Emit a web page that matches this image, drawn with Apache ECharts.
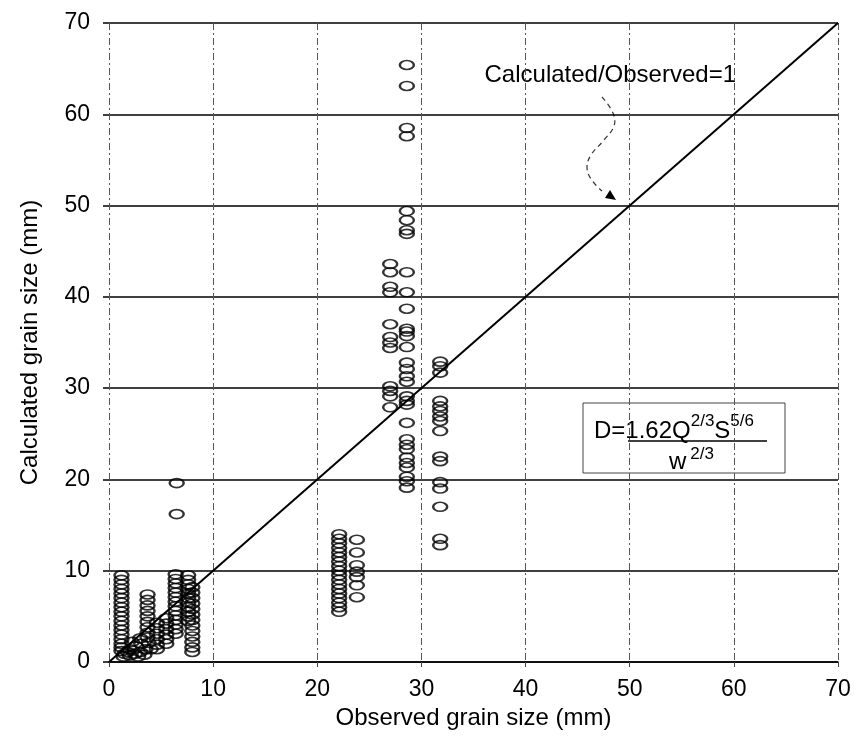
<!DOCTYPE html>
<html>
<head>
<meta charset="utf-8">
<script src="https://cdn.jsdelivr.net/npm/echarts@6/dist/echarts.min.js"></script>
<style>
html,body{margin:0;padding:0;background:#fff;}
#main{width:854px;height:747px;}
</style>
</head>
<body>
<div id="main"></div>
<script>
var ticks = [0, 10, 20, 30, 40, 50, 60, 70];
// small rivers, observed 0-9 mm
var obsSmall = [
    1.2,1.2,1.2,1.2,1.2,1.2,1.2,1.2,1.2,1.2,1.2,1.2,1.2,1.2,1.2,1.2,1.2,1.2,
    1.5,2.0,2.5,3.0,3.5,2.0,2.6,3.1,1.8,2.8,3.4,4.0,3.8,1.4,2.2,3.0,
    3.7,3.7,3.7,3.7,3.7,3.7,3.7,3.7,3.7,
    4.6,4.6,4.6,4.6,4.6,4.6,
    5.5,5.5,5.5,5.5,5.5,5.5,
    6.4,6.4,6.4,6.4,6.4,6.4,6.4,6.4,6.4,6.4,6.4,6.4,6.4,6.4,
    7.6,7.6,7.6,7.6,7.6,7.6,7.6,7.6,7.6,7.6,7.6,
    8.0,8.0,8.0,8.0,8.0,8.0,8.0,8.0,8.0,8.0,8.0,8.0,8.0,
    6.5,6.5
];
var calcSmall = [
    9.5,9.0,8.5,8.0,7.5,7.0,6.5,6.0,5.5,5.0,4.5,4.0,3.5,3.0,2.5,2.0,1.6,1.2,
    0.9,0.7,0.9,1.1,1.4,1.4,1.7,2.0,1.1,0.6,0.8,1.4,2.1,0.6,2.2,2.6,
    7.4,6.8,6.2,5.6,5.0,4.4,3.8,3.2,2.7,
    4.3,3.7,3.1,2.5,1.9,1.4,
    4.8,4.2,3.6,3.0,2.5,2.0,
    9.6,9.1,8.6,8.1,7.6,7.1,6.6,6.1,5.6,5.1,4.6,4.1,3.6,3.1,
    9.5,9.0,8.5,8.0,7.5,7.0,6.5,6.0,5.5,5.0,4.5,
    8.2,7.6,7.0,6.4,5.8,5.2,4.6,4.0,3.4,2.8,2.2,1.6,1.1,
    19.6,16.2
];
// observed 22-24 mm
var obsMid = [
    22.1,22.1,22.1,22.1,22.1,22.1,22.1,22.1,22.1,22.1,22.1,22.1,22.1,22.1,22.1,22.1,22.1,22.1,
    23.8,23.8,23.8,23.8,23.8,23.8,23.8
];
var calcMid = [
    14.0,13.5,13.0,12.5,12.0,11.5,11.0,10.5,10.0,9.5,9.0,8.5,8.0,7.5,7.0,6.5,6.0,5.5,
    13.4,12.0,10.6,9.9,9.3,8.4,7.1
];
// observed 27-32 mm
var obsBig = [
    27.0,27.0,27.0,27.0,27.0,27.0,27.0,27.0,27.0,27.0,27.0,27.0,
    28.6,28.6,28.6,28.6,28.6,28.6,28.6,28.6,28.6,28.6,28.6,28.6,28.6,28.6,28.6,28.6,
    28.6,28.6,28.6,28.6,28.6,28.6,28.6,28.6,28.6,28.6,28.6,28.6,28.6,28.6,28.6,28.6,
    31.8,31.8,31.8,31.8,31.8,31.8,31.8,31.8,31.8,31.8,31.8,31.8,31.8,31.8,31.8,31.8,31.8,31.8
];
var calcBig = [
    43.6,42.7,41.1,40.5,37.0,35.6,35.0,34.4,30.2,29.7,29.1,27.9,
    65.4,63.1,58.5,57.6,49.4,48.4,47.3,46.9,42.7,40.5,38.7,36.5,34.5,32.8,32.1,31.3,
    30.7,29.1,28.6,28.2,26.2,24.4,23.8,23.3,22.4,21.8,21.3,20.3,19.8,19.1,
    36.2,35.7,32.9,32.4,31.7,28.6,28.0,27.5,26.9,26.4,25.3,22.5,22.0,19.7,19.0,17.0,13.5,12.8
];
var lineOne = [[0, 0], [70, 70]];

var chart = echarts.init(document.getElementById('main'));

var points = [];
[[obsSmall, calcSmall], [obsMid, calcMid], [obsBig, calcBig]].forEach(function (g) {
    for (var i = 0; i < g[0].length; i++) points.push([g[0][i], g[1][i]]);
});

var font = 'Liberation Sans, Arial, sans-serif';

option = {
    backgroundColor: '#fff',
    animation: false,
    grid: {left: 109, right: 16, top: 23, bottom: 85},
    xAxis: {
        type: 'value', min: ticks[0], max: ticks[ticks.length - 1], interval: 10,
        name: 'Observed grain size (mm)', nameLocation: 'middle', nameGap: 42,
        nameTextStyle: {fontFamily: font, fontSize: 24, color: '#000'},
        axisLine: {lineStyle: {color: '#000', width: 1.5}},
        axisTick: {show: true, length: 5, lineStyle: {color: '#444'}},
        axisLabel: {fontFamily: font, fontSize: 23, color: '#000', margin: 16},
        splitLine: {show: true, lineStyle: {color: '#555', width: 1, type: [7, 3, 2, 3]}}
    },
    yAxis: {
        type: 'value', min: ticks[0], max: ticks[ticks.length - 1], interval: 10,
        name: 'Calculated grain size (mm)', nameLocation: 'middle', nameGap: 67,
        nameTextStyle: {fontFamily: font, fontSize: 24, color: '#000'},
        axisLine: {show: false},
        axisTick: {show: true, length: 6, lineStyle: {color: '#000', width: 1.5}},
        axisLabel: {fontFamily: font, fontSize: 23, color: '#000', margin: 19},
        splitLine: {show: true, lineStyle: {color: '#000', width: 1.6}}
    },
    series: [
        {
            type: 'line',
            data: lineOne,
            symbol: 'none',
            lineStyle: {color: '#000', width: 2},
            z: 2
        },
        {
            type: 'scatter',
            data: points,
            symbol: 'path://M0,5A8,5,0,1,1,16,5A8,5,0,1,1,0,5Z',
            symbolSize: [14, 9],
            itemStyle: {color: 'rgba(255,255,255,0)', borderColor: '#000', borderWidth: 2},
            z: 3
        }
    ],
    graphic: [
        {
            type: 'text', x: 736, y: 75,
            style: {text: 'Calculated/Observed=1', fontFamily: font, fontSize: 24, fill: '#000',
                align: 'right', verticalAlign: 'middle'}
        },
        {
            type: 'polyline',
            shape: {points: [[602, 97], [613, 113], [614, 126], [604, 140], [591, 155], [587, 167], [591, 179], [602, 191]], smooth: 0.4},
            style: {stroke: '#333', lineWidth: 1.2, lineDash: [5, 4], fill: null}
        },
        {
            type: 'polygon',
            shape: {points: [[616, 200], [605, 198], [610, 190]]},
            style: {fill: '#000'}
        },
        {
            type: 'rect',
            shape: {x: 583, y: 403, width: 202, height: 70},
            style: {fill: '#fff', stroke: '#444', lineWidth: 1}
        },
        {
            type: 'text', x: 594, y: 428,
            style: {
                rich: {
                    n: {fontFamily: font, fontSize: 24, fill: '#000', lineHeight: 30, verticalAlign: 'bottom'},
                    s: {fontFamily: font, fontSize: 17, fill: '#000', lineHeight: 16, verticalAlign: 'top'}
                },
                text: '{n|D=1.62Q}{s|2/3}{n|S}{s|5/6}',
                verticalAlign: 'middle'
            }
        },
        {
            type: 'line',
            shape: {x1: 628, y1: 441, x2: 767, y2: 441},
            style: {stroke: '#000', lineWidth: 1.5}
        },
        {
            type: 'text', x: 669, y: 460,
            style: {
                rich: {
                    n: {fontFamily: font, fontSize: 24, fill: '#000', lineHeight: 28, verticalAlign: 'bottom'},
                    s: {fontFamily: font, fontSize: 17, fill: '#000', lineHeight: 16, verticalAlign: 'top', padding: [0, 0, 0, 4]}
                },
                text: '{n|w}{s|2/3}',
                verticalAlign: 'middle'
            }
        }
    ]
};
chart.setOption(option);
</script>
</body>
</html>
